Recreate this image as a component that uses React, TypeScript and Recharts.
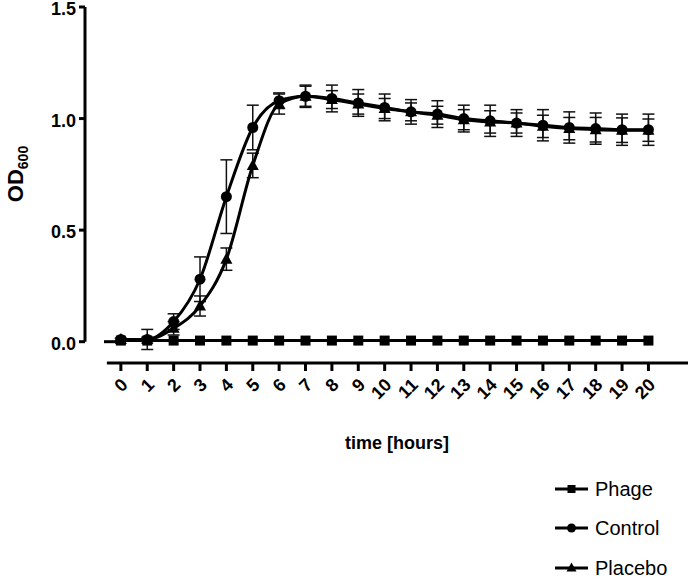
import { LineChart, Line, XAxis, YAxis, ErrorBar, ReferenceLine, Legend } from 'recharts'

const hours = [0, 1, 2, 3, 4, 5, 6, 7, 8, 9, 10, 11, 12, 13, 14, 15, 16, 17, 18, 19, 20]
const phage = [0.005, 0.005, 0.005, 0.005, 0.005, 0.005, 0.005, 0.005, 0.005, 0.005, 0.005, 0.005, 0.005, 0.005, 0.005, 0.005, 0.005, 0.005, 0.005, 0.005, 0.005]
const control = [0.01, 0.01, 0.09, 0.28, 0.65, 0.96, 1.08, 1.1, 1.09, 1.07, 1.05, 1.03, 1.02, 1.0, 0.99, 0.98, 0.97, 0.96, 0.955, 0.95, 0.95]
const controlSd = [0.005, 0.045, 0.035, 0.1, 0.165, 0.1, 0.035, 0.05, 0.06, 0.06, 0.06, 0.055, 0.06, 0.06, 0.07, 0.06, 0.07, 0.07, 0.07, 0.07, 0.07]
const placebo = [0.01, 0.01, 0.06, 0.16, 0.37, 0.79, 1.065, 1.1, 1.085, 1.065, 1.045, 1.03, 1.015, 0.995, 0.985, 0.98, 0.965, 0.955, 0.95, 0.948, 0.948]
const placeboSd = [0.005, 0.01, 0.03, 0.045, 0.05, 0.055, 0.045, 0.045, 0.04, 0.045, 0.045, 0.04, 0.04, 0.045, 0.05, 0.045, 0.05, 0.05, 0.055, 0.055, 0.05]
const seriesNames = ['Phage', 'Control', 'Placebo']
const yTicks = [0, 0.5, 1.0, 1.5]

const data = hours.map((h, i) => ({
  h,
  phage: phage[i],
  control: control[i],
  controlSd: controlSd[i],
  placebo: placebo[i],
  placeboSd: placeboSd[i],
}))

const FONT = '"Liberation Sans", Arial, sans-serif'

const SquareDot = (p: any) =>
  p.cx == null ? null : <rect key={`sq-${p.index}`} x={p.cx - 5} y={p.cy - 5} width={10} height={10} fill="#000" />
const CircleDot = (p: any) =>
  p.cx == null ? null : <circle key={`ci-${p.index}`} cx={p.cx} cy={p.cy} r={5.5} fill="#000" />
const TriangleDot = (p: any) =>
  p.cx == null ? null : (
    <polygon key={`tr-${p.index}`} points={`${p.cx},${p.cy - 6.5} ${p.cx + 6},${p.cy + 4.5} ${p.cx - 6},${p.cy + 4.5}`} fill="#000" />
  )

const XTick = ({ x, y, payload }: any) => (
  <text
    x={x + 8}
    y={y + 13}
    transform={`rotate(-45, ${x + 8}, ${y + 13})`}
    textAnchor="end"
    fontFamily={FONT}
    fontWeight="bold"
    fontSize={18}
    fill="#000">
    {payload.value}
  </text>
)

const YTick = ({ x, y, payload }: any) => (
  <text x={x - 1} y={y} dy={8} textAnchor="end" fontFamily={FONT} fontWeight="bold" fontSize={18} fill="#000">
    {payload.value.toFixed(1)}
  </text>
)

const legendIcon = (i: number) => {
  if (i === 0) return <rect x={12.5} y={3} width={8} height={8} fill="#000" />
  if (i === 1) return <circle cx={16.5} cy={7} r={4.5} fill="#000" />
  return <polygon points="16.5,1.5 21.5,10.5 11.5,10.5" fill="#000" />
}

const LegendBox = () => (
  <div style={{ fontFamily: FONT, fontSize: 20, color: '#000' }}>
    {seriesNames.map((name, i) => (
      <div key={name} style={{ display: 'flex', alignItems: 'center', height: 39.5 }}>
        <svg width={40} height={14} style={{ flex: 'none' }}>
          <line x1={0} y1={7} x2={33} y2={7} stroke="#000" strokeWidth={3} />
          {legendIcon(i)}
        </svg>
        <span style={{ lineHeight: 1 }}>{name}</span>
      </div>
    ))}
  </div>
)

export default function App() {
  return (
    <div style={{ position: 'absolute', left: 0, top: 0 }}>
      <LineChart width={692} height={579} data={data} margin={{ top: 7, right: 4, bottom: 0, left: 0 }}>
        <XAxis
          dataKey="h"
          type="number"
          domain={[-1.36, 21.5]}
          allowDataOverflow
          ticks={hours}
          interval={0}
          height={216}
          axisLine={false}
          tickSize={8}
          tickMargin={2}
          tickLine={{ stroke: '#000', strokeWidth: 3 }}
          tick={<XTick />}
          label={{
            content: () => (
              <text x={397} y={449} textAnchor="middle" fontFamily={FONT} fontWeight="bold" fontSize={18} fill="#000">
                time [hours]
              </text>
            ),
          }}
        />
        <YAxis
          type="number"
          domain={[-0.0955, 1.5]}
          allowDataOverflow
          ticks={yTicks}
          interval={0}
          width={85}
          axisLine={false}
          tickSize={6}
          tickMargin={2}
          tickLine={{ stroke: '#000', strokeWidth: 3 }}
          tick={<YTick />}
          label={{
            content: () => (
              <text
                x={23}
                y={174}
                transform="rotate(-90, 23, 174)"
                textAnchor="middle"
                fontFamily={FONT}
                fontWeight="bold"
                fontSize={22}
                fill="#000">
                OD
                <tspan fontSize={14} dy={5}>
                  600
                </tspan>
              </text>
            ),
          }}
        />
        <ReferenceLine segment={[{ x: -1.36, y: 0 }, { x: -1.36, y: 1.5 }]} stroke="#000" strokeWidth={3} ifOverflow="visible" />
        <ReferenceLine segment={[{ x: -0.53, y: -0.0955 }, { x: 21.5, y: -0.0955 }]} stroke="#000" strokeWidth={3} ifOverflow="visible" />
        <ReferenceLine segment={[{ x: -0.64, y: 0 }, { x: 0, y: 0 }]} stroke="#000" strokeWidth={3} ifOverflow="visible" />
        <Line dataKey="phage" name="Phage" type="linear" stroke="#000" strokeWidth={3} dot={SquareDot} isAnimationActive={false} />
        <Line dataKey="control" name="Control" type="monotone" stroke="#000" strokeWidth={3} dot={CircleDot} isAnimationActive={false}>
          <ErrorBar dataKey="controlSd" width={6} stroke="#111" strokeWidth={1.5} isAnimationActive={false} />
        </Line>
        <Line dataKey="placebo" name="Placebo" type="monotone" stroke="#000" strokeWidth={3} dot={TriangleDot} isAnimationActive={false}>
          <ErrorBar dataKey="placeboSd" width={6} stroke="#111" strokeWidth={1.5} isAnimationActive={false} />
        </Line>
        <Legend
          layout="vertical"
          align="center"
          verticalAlign="middle"
          wrapperStyle={{ left: 555, top: 469, width: 137 }}
          content={<LegendBox />}
        />
      </LineChart>
    </div>
  )
}
